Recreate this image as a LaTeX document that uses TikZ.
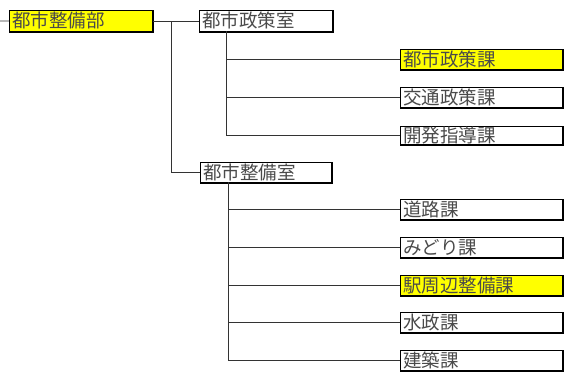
\documentclass[tikz,border=0pt]{standalone}
\usepackage{fontspec}
\newfontfamily\jpfont{Noto Sans CJK JP}
\usepackage{tikz}
\usetikzlibrary{positioning,calc}
\usepackage{xcolor}
\definecolor{orgyellow}{HTML}{FFFF00}
\definecolor{orgtext}{HTML}{4A4A4A}
\definecolor{orgline}{HTML}{333333}

\begin{document}
\begin{tikzpicture}[
  x=1pt, y=-1pt,
  font=\jpfont\fontsize{18.5pt}{19pt}\selectfont,
  unitbox/.style={
    draw=black,
    fill=white,
    line width=0.8pt,
    text=orgtext,
    inner xsep=3pt,
    inner ysep=0pt,
    minimum height=20pt,
    align=left,
    anchor=north west
  },
  hilite/.style={fill=orgyellow},
  branch/.style={draw=orgline, line width=0.7pt}
]
  \useasboundingbox (0,0) rectangle (566,378);

  % ---------------------------------------------------------------------------
  % department and offices
  % ---------------------------------------------------------------------------
  \node[unitbox, hilite, text width=137pt, minimum height=21pt] (bu) at (9,10) {都市整備部};
  \node[unitbox, text width=127pt, minimum height=21pt] (seisaku) at (199,10) {都市政策室};
  \node[unitbox, text width=125pt] (seibi) at (200,162) {都市整備室};

  % ---------------------------------------------------------------------------
  % sections
  % ---------------------------------------------------------------------------
  \node[unitbox, hilite, text width=156pt] (toshiseisaku) at (400,49) {都市政策課};
  \node[unitbox, text width=156pt] (kotsu) at (400,87) {交通政策課};
  \node[unitbox, text width=156pt, minimum height=18pt] (kaihatsu) at (400,126) {開発指導課};

  \node[unitbox, text width=156pt] (doro) at (400,199) {道路課};
  \node[unitbox, text width=156pt] (midori) at (400,237) {みどり課};
  \node[unitbox, hilite, text width=156pt] (ekishuhen) at (400,275) {駅周辺整備課};
  \node[unitbox, text width=156pt] (suisei) at (400,312) {水政課};
  \node[unitbox, text width=156pt] (kenchiku) at (400,350) {建築課};

  % heavier bottom and right edges
  \foreach \n in {bu,seisaku,seibi,toshiseisaku,kotsu,kaihatsu,doro,midori,ekishuhen,suisei,kenchiku}
    \draw[line width=1.6pt] (\n.north east) |- (\n.south west);

  % ---------------------------------------------------------------------------
  % connecting lines
  % ---------------------------------------------------------------------------
  \coordinate (upper) at (0,21);
  \coordinate (split) at (171,21);
  \coordinate (trunkA) at (226,31);
  \coordinate (trunkB) at (228,182);

  \draw[branch] (upper) -- (bu.west);
  \draw[branch] (bu.east) -- (seisaku.west);
  \draw[branch] (split) |- (seibi.west);

  \foreach \n in {toshiseisaku,kotsu,kaihatsu}
    \draw[branch] (trunkA) |- (\n.west);
  \foreach \n in {doro,midori,ekishuhen,suisei,kenchiku}
    \draw[branch] (trunkB) |- (\n.west);

\end{tikzpicture}
\end{document}
